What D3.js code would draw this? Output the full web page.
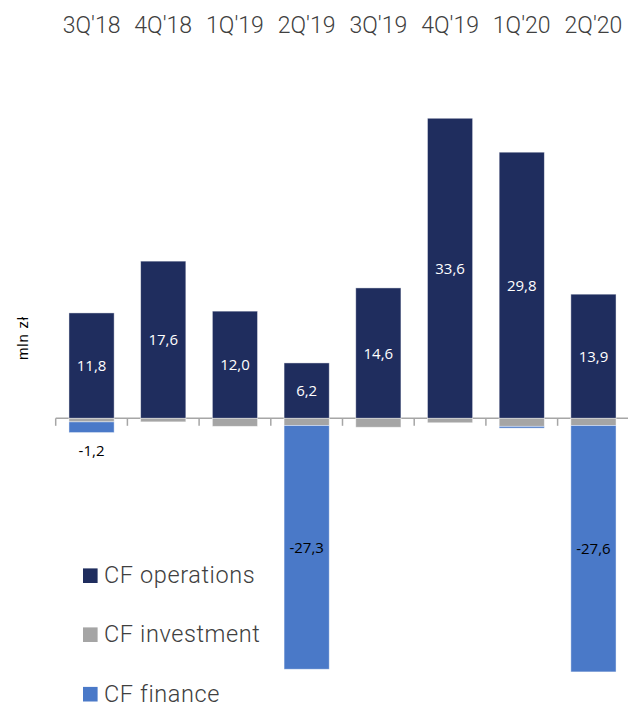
<!DOCTYPE html>
<html>
<head>
<meta charset="utf-8">
<script src="https://cdn.jsdelivr.net/npm/d3@7"></script>
<style>
  html, body { margin: 0; padding: 0; background: #fff; }
  svg { display: block; }
</style>
</head>
<body>
<svg id="chart" width="628" height="705"></svg>
<script>
// Quarterly cash flows, mln zł
const quarters = ["3Q'18", "4Q'18", "1Q'19", "2Q'19", "3Q'19", "4Q'19", "1Q'20", "2Q'20"];
const cfOperations = [11.8, 17.6, 12.0, 6.2, 14.6, 33.6, 29.8, 13.9];
const cfInvestment = [-0.4, -0.4, -0.9, -0.8, -1.0, -0.5, -0.9, -0.8];
const cfFinance    = [-1.2, 0, 0, -27.3, 0, 0, -0.2, -27.6];

const seriesKeys = ["operations", "investment", "finance"];
const seriesNames = ["CF operations", "CF investment", "CF finance"];
const seriesColors = ["#1f2d5e", "#a5a5a5", "#4a79c8"];

const rows = quarters.map((q, i) => ({
  quarter: q,
  operations: cfOperations[i],
  investment: cfInvestment[i],
  finance: cfFinance[i]
}));

const svg = d3.select("#chart");
const fmt = v => d3.format(".1f")(v).replace(".", ",").replace("−", "-");

const x = d3.scaleBand()
  .domain(quarters)
  .range([55.7, 629.3])
  .paddingInner(0.37)
  .paddingOuter(0.185);

const y = d3.scaleLinear()
  .domain([-30, 35])
  .range([686.2, 105.75]);

const color = d3.scaleOrdinal().domain(seriesKeys).range(seriesColors);

const stacked = d3.stack()
  .keys(seriesKeys)
  .offset(d3.stackOffsetDiverging)(rows);

// category axis along the top
const topAxis = svg.append("g")
  .attr("transform", "translate(0,33)")
  .call(d3.axisTop(x).tickSize(0).tickPadding(0));
topAxis.select(".domain").remove();
topAxis.selectAll("text")
  .attr("font-family", "Roboto, sans-serif")
  .attr("font-weight", 300)
  .attr("font-size", 23)
  .attr("fill", "#404040")
  .attr("dy", 0);

// zero line with tick marks on band boundaries
const y0 = y(0);
const gap = x.step() * x.paddingInner() / 2;
const baseline = svg.append("g");
baseline.append("line")
  .attr("x1", 55.7).attr("x2", 628)
  .attr("y1", y0).attr("y2", y0)
  .attr("stroke", "#a6a6a6").attr("stroke-width", 1.5);
baseline.selectAll("line.tick")
  .data(quarters)
  .join("line")
  .attr("class", "tick")
  .attr("x1", d => x(d) - gap).attr("x2", d => x(d) - gap)
  .attr("y1", y0).attr("y2", y0 + 7.5)
  .attr("stroke", "#a6a6a6").attr("stroke-width", 1.5);

// stacked bars
svg.append("g")
  .selectAll("g")
  .data(stacked)
  .join("g")
  .attr("fill", d => color(d.key))
  .selectAll("rect")
  .data(d => d)
  .join("rect")
  .attr("x", d => x(d.data.quarter))
  .attr("width", x.bandwidth())
  .attr("y", d => y(Math.max(d[0], d[1])))
  .attr("height", d => Math.abs(y(d[0]) - y(d[1])))
  .attr("stroke", "rgba(255,255,255,0.55)")
  .attr("stroke-width", 0.8);

// value labels: operations inside, in white
const labelFont = "'Open Sans', sans-serif";
svg.append("g")
  .selectAll("text")
  .data(stacked[0])
  .join("text")
  .attr("x", d => x(d.data.quarter) + x.bandwidth() / 2)
  .attr("y", d => (y(d[0]) + y(d[1])) / 2)
  .attr("dy", "0.36em")
  .attr("text-anchor", "middle")
  .attr("font-family", labelFont)
  .attr("font-size", 15)
  .attr("fill", "#fff")
  .text(d => fmt(d.data.operations));

// finance labels: inside large bars, below small ones
svg.append("g")
  .selectAll("text")
  .data(stacked[2].filter(d => d.data.finance <= -1))
  .join("text")
  .attr("x", d => x(d.data.quarter) + x.bandwidth() / 2)
  .attr("y", d => Math.abs(d.data.finance) > 5
    ? (y(d[0]) + y(d[1])) / 2
    : y(d[0]) + 18.5)
  .attr("dy", "0.36em")
  .attr("text-anchor", "middle")
  .attr("font-family", labelFont)
  .attr("font-size", 15)
  .attr("fill", "#000")
  .text(d => fmt(d.data.finance));

// vertical unit label
svg.append("text")
  .attr("transform", "translate(27.5,338) rotate(-90)")
  .attr("text-anchor", "middle")
  .attr("font-family", "'Liberation Sans', Arial, sans-serif")
  .attr("font-size", 15)
  .attr("letter-spacing", 0.8)
  .attr("fill", "#000")
  .text("mln zł");

// legend
const legendBaselines = [583, 642, 701.5];
const legend = svg.append("g")
  .selectAll("g")
  .data(seriesKeys)
  .join("g")
  .attr("transform", (d, i) => `translate(83,${legendBaselines[i]})`);
legend.append("rect")
  .attr("x", 0).attr("y", -14.6)
  .attr("width", 14.6).attr("height", 14.6)
  .attr("fill", d => color(d));
legend.append("text")
  .attr("x", 21)
  .attr("y", 0)
  .attr("font-family", "Roboto, sans-serif")
  .attr("font-weight", 300)
  .attr("font-size", 23.5)
  .attr("letter-spacing", 0.6)
  .attr("fill", "#404040")
  .text((d, i) => seriesNames[i]);
</script>
</body>
</html>
